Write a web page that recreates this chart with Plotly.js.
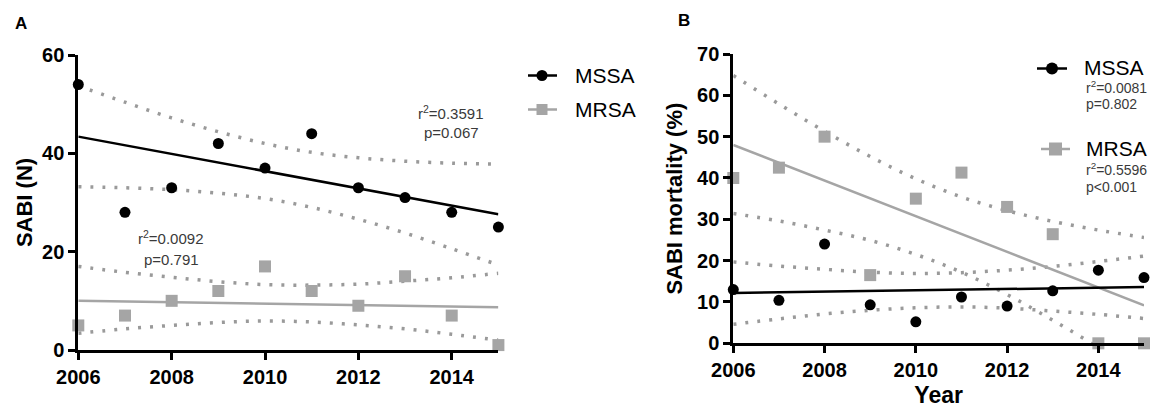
<!DOCTYPE html>
<html>
<head>
<meta charset="utf-8">
<script src="https://cdn.plot.ly/plotly-3.0.1.min.js"></script>
<style>html,body{margin:0;padding:0;background:#fff;}#chart{width:1151px;height:408px;}</style>
</head>
<body>
<div id="chart"></div>
<script>
// ---- data ----
const years = [2006, 2007, 2008, 2009, 2010, 2011, 2012, 2013, 2014, 2015];
const fitYears = [2006, 2015];
const xTicks = [2006, 2008, 2010, 2012, 2014];

// Panel A: SABI (N)
const mssaCount = [54, 28, 33, 42, 37, 44, 33, 31, 28, 25];
const mrsaCount = [5, 7, 10, 12, 17, 12, 9, 15, 7, 1];
const mssaCountFit = [43.4, 27.6];
const mrsaCountFit = [10.0, 8.7];
const mssaCountUpper = [53.7, 50.4, 47.2, 44.4, 42.0, 40.2, 39.1, 38.4, 38.0, 37.8];
const mssaCountLower = [33.2, 33.0, 32.6, 31.9, 30.8, 29.0, 26.6, 23.8, 20.6, 17.3];
const mrsaCountUpper = [17.0, 15.8, 14.8, 13.9, 13.3, 13.2, 13.4, 14.0, 14.7, 15.6];
const mrsaCountLower = [3.4, 4.3, 5.0, 5.6, 5.9, 5.7, 5.1, 4.3, 3.2, 2.0];

// Panel B: SABI mortality (%)
const mssaMort = [13, 10.4, 24, 9.3, 5.2, 11.2, 9, 12.7, 17.7, 15.9];
const mrsaMort = [40, 42.5, 50, 16.5, 35, 41.3, 33, 26.4, 0, 0];
const mssaMortFit = [12.2, 13.6];
const mrsaMortFit = [48.0, 9.2];
const mssaMortUpper = [19.7, 18.7, 17.9, 17.2, 16.9, 17.1, 17.7, 18.6, 19.8, 21.1];
const mssaMortLower = [4.6, 5.9, 7.1, 8.0, 8.6, 8.8, 8.5, 7.8, 7.0, 6.0];
const mrsaMortUpper = [64.8, 57.9, 51.3, 45.2, 39.8, 35.4, 32.1, 29.5, 27.4, 25.6];
const mrsaMortLower = [31.4, 29.6, 27.4, 24.9, 21.5, 17.2, 11.8, 5.6, -1.0, -7.9];

// ---- styles ----
const BLACK = '#000000';
const GRAY = '#a5a5a5';
const DOT = '#9a9a9a';
const FONT = 'Liberation Sans, Arial, sans-serif';

function band(y, xa, ya) {
  return {x: years, y: y, xaxis: xa, yaxis: ya, mode: 'lines', type: 'scatter',
    line: {color: DOT, width: 3.5, dash: '3px,9px', shape: 'spline', smoothing: 1},
    hoverinfo: 'skip', showlegend: false};
}
function fit(y, color, xa, ya) {
  return {x: fitYears, y: y, xaxis: xa, yaxis: ya, mode: 'lines', type: 'scatter',
    line: {color: color, width: 2.5}, showlegend: false};
}
function pts(y, color, symbol, xa, ya, name) {
  return {x: years, y: y, xaxis: xa, yaxis: ya, mode: 'markers', type: 'scatter', name: name,
    marker: {color: color, size: symbol === 'square' ? 12 : 11, symbol: symbol},
    cliponaxis: false, showlegend: false};
}

const traces = [
  band(mssaCountUpper, 'x', 'y'), band(mssaCountLower, 'x', 'y'),
  band(mrsaCountUpper, 'x', 'y'), band(mrsaCountLower, 'x', 'y'),
  fit(mssaCountFit, BLACK, 'x', 'y'), fit(mrsaCountFit, GRAY, 'x', 'y'),
  pts(mrsaCount, GRAY, 'square', 'x', 'y', 'MRSA'),
  pts(mssaCount, BLACK, 'circle', 'x', 'y', 'MSSA'),

  band(mssaMortUpper, 'x2', 'y2'), band(mssaMortLower, 'x2', 'y2'),
  band(mrsaMortUpper, 'x2', 'y2'), band(mrsaMortLower, 'x2', 'y2'),
  fit(mrsaMortFit, GRAY, 'x2', 'y2'), fit(mssaMortFit, BLACK, 'x2', 'y2'),
  pts(mrsaMort, GRAY, 'square', 'x2', 'y2', 'MRSA'),
  pts(mssaMort, BLACK, 'circle', 'x2', 'y2', 'MSSA')
];

const W = 1151, H = 408;
const px = v => v / W;
const py = v => 1 - v / H;

const tickFont = {family: FONT, size: 20, color: BLACK, weight: 'bold'};
function xAxis(domain, anchor, title) {
  const a = {domain: domain, anchor: anchor, range: [2006, 2015], tickvals: xTicks,
    showline: true, linecolor: BLACK, linewidth: 3, ticks: 'outside', ticklen: 7, tickwidth: 3,
    tickcolor: BLACK, showgrid: false, zeroline: false, tickfont: tickFont, fixedrange: true};
  if (title) a.title = {text: title, font: {family: FONT, size: 23, color: BLACK, weight: 'bold'}, standoff: 7};
  return a;
}
function yAxis(domain, anchor, range, dtick, title, standoff) {
  return {domain: domain, anchor: anchor, range: range, dtick: dtick, tick0: 0,
    showline: true, linecolor: BLACK, linewidth: 3, ticks: 'outside', ticklen: 7, tickwidth: 3,
    tickcolor: BLACK, showgrid: false, zeroline: false, tickfont: tickFont, fixedrange: true,
    title: {text: title, font: {family: FONT, size: 22, color: BLACK, weight: 'bold'}, standoff: standoff}};
}

const annFont = s => ({family: FONT, size: s, color: '#3a3a3a'});
const annotations = [
  {text: 'A', x: px(14), y: py(23), xanchor: 'left', yanchor: 'middle', font: {family: FONT, size: 17, color: BLACK, weight: 'bold'}},
  {text: 'B', x: px(677), y: py(20), xanchor: 'left', yanchor: 'middle', font: {family: FONT, size: 17, color: BLACK, weight: 'bold'}},
  {text: 'r<sup>2</sup>=0.3591', x: px(450), y: py(112), xanchor: 'center', yanchor: 'middle', font: annFont(15)},
  {text: 'p=0.067', x: px(451), y: py(133), xanchor: 'center', yanchor: 'middle', font: annFont(15)},
  {text: 'r<sup>2</sup>=0.0092', x: px(170), y: py(237), xanchor: 'center', yanchor: 'middle', font: annFont(15)},
  {text: 'p=0.791', x: px(171), y: py(259), xanchor: 'center', yanchor: 'middle', font: annFont(15)},
  // legend A
  {text: 'MSSA', x: px(574), y: py(75), xanchor: 'left', yanchor: 'middle', font: {family: FONT, size: 21, color: BLACK}},
  {text: 'MRSA', x: px(574), y: py(109.5), xanchor: 'left', yanchor: 'middle', font: {family: FONT, size: 21, color: BLACK}},
  // legend B
  {text: 'MSSA', x: px(1083), y: py(68), xanchor: 'left', yanchor: 'middle', font: {family: FONT, size: 21, color: BLACK}},
  {text: 'r<sup>2</sup>=0.0081', x: px(1085), y: py(87), xanchor: 'left', yanchor: 'middle', font: annFont(14)},
  {text: 'p=0.802', x: px(1085), y: py(104), xanchor: 'left', yanchor: 'middle', font: annFont(14)},
  {text: 'MRSA', x: px(1085), y: py(148), xanchor: 'left', yanchor: 'middle', font: {family: FONT, size: 21, color: BLACK}},
  {text: 'r<sup>2</sup>=0.5596', x: px(1085), y: py(169), xanchor: 'left', yanchor: 'middle', font: annFont(14)},
  {text: 'p<0.001', x: px(1085), y: py(187), xanchor: 'left', yanchor: 'middle', font: annFont(14)}
].map(a => Object.assign({xref: 'paper', yref: 'paper', showarrow: false, borderpad: 0}, a));

function legLine(x0, x1, y, color) {
  return {type: 'line', xref: 'paper', yref: 'paper', x0: px(x0), x1: px(x1), y0: py(y), y1: py(y),
    line: {color: color, width: 2.5}};
}
function legSym(cx, cy, color, kind, size) {
  return {type: kind === 'square' ? 'rect' : 'circle', xref: 'paper', yref: 'paper',
    xsizemode: 'pixel', ysizemode: 'pixel', xanchor: px(cx), yanchor: py(cy),
    x0: -size / 2, x1: size / 2, y0: -size / 2, y1: size / 2,
    fillcolor: color, line: {width: 0}};
}
const shapes = [
  legLine(528, 557, 75.5, BLACK), legSym(542, 75.5, BLACK, 'circle', 11),
  legLine(528, 557, 109.5, GRAY), legSym(542, 109.5, GRAY, 'square', 11),
  legLine(1037, 1067, 68.5, BLACK), legSym(1052, 68.5, BLACK, 'circle', 12),
  legLine(1041, 1070, 149, GRAY), legSym(1055.5, 149, GRAY, 'square', 13)
];

const layout = {
  width: W, height: H, margin: {l: 0, r: 0, t: 0, b: 0},
  paper_bgcolor: '#ffffff', plot_bgcolor: '#ffffff', showlegend: false,
  font: {family: FONT, color: BLACK},
  xaxis: xAxis([px(78.3), px(498.4)], 'y', null),
  yaxis: yAxis([1 - 350 / H, 1 - 55 / H], 'x', [0, 60], 20, 'SABI (N)', 4),
  xaxis2: xAxis([px(733.3), px(1144)], 'y2', 'Year'),
  yaxis2: yAxis([1 - 343.3 / H, 1 - 54 / H], 'x2', [0, 70], 10, 'SABI mortality (%)', 9),
  annotations: annotations,
  shapes: shapes
};

Plotly.newPlot('chart', traces, layout, {displayModeBar: false, staticPlot: true});
</script>
</body>
</html>
